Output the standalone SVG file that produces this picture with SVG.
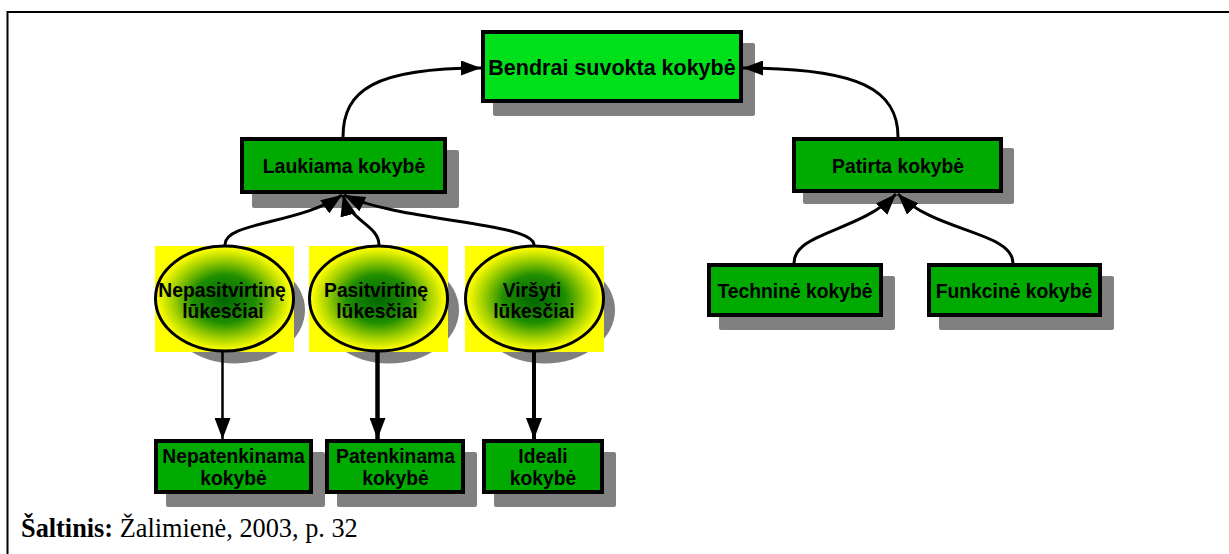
<svg xmlns="http://www.w3.org/2000/svg" width="1229" height="554" viewBox="0 0 1229 554">
<style>
.box{stroke:#000;stroke-width:4}
.b1{fill:#00E01A}
.b2{fill:#00AA00}
.sh{fill:#808080}
.t{font-family:"Liberation Sans",Arial,sans-serif;font-weight:bold;font-size:19.3px;fill:#000;text-anchor:middle}
.con{fill:none;stroke:#000;stroke-width:3}
.ell{fill:none;stroke:#000;stroke-width:3}
</style>
<defs>
<radialGradient id="rg" cx="0.5" cy="0.5" r="0.5" gradientUnits="objectBoundingBox">
<stop offset="0" stop-color="#006600"/>
<stop offset="0.45" stop-color="#1f8e00"/>
<stop offset="0.75" stop-color="#a6d200"/>
<stop offset="0.97" stop-color="#ffff00"/>
</radialGradient>
<marker id="ah" markerUnits="userSpaceOnUse" markerWidth="20" markerHeight="15" refX="20" refY="7.5" orient="auto">
<path d="M0,0 L20,7.5 L0,15 z" fill="#000"/>
</marker>
<marker id="ad" markerUnits="userSpaceOnUse" markerWidth="21" markerHeight="16" refX="21" refY="8" orient="auto">
<path d="M0,0 L21,8 L0,16 z" fill="#000"/>
</marker>
</defs>
<rect width="1229" height="554" fill="#fff"/>
<path d="M7.5,554 L7.5,12 L1229,12" fill="none" stroke="#000" stroke-width="2"/>

<g id="n-bendrai">
<rect class="sh" x="493" y="43" width="262" height="73" rx="2"/>
<rect class="box b1" x="483" y="32" width="258" height="69"/>
<text class="t" x="612" y="75" style="font-size:21.5px">Bendrai suvokta kokybė</text>
</g>
<g id="n-laukiama">
<rect class="sh" x="252" y="150" width="207" height="58" rx="2"/>
<rect class="box b2" x="242" y="139" width="203" height="53"/>
<text class="t" x="344" y="172.5" style="font-size:19.5px">Laukiama kokybė</text>
</g>
<g id="n-patirta">
<rect class="sh" x="803" y="148" width="211" height="56" rx="2"/>
<rect class="box b2" x="794" y="139" width="207" height="52"/>
<text class="t" x="898" y="172.5">Patirta kokybė</text>
</g>
<g id="n-technine">
<rect class="sh" x="719" y="276" width="176" height="54" rx="2"/>
<rect class="box b2" x="709" y="265" width="172" height="50"/>
<text class="t" x="795" y="298">Techninė kokybė</text>
</g>
<g id="n-funkcine">
<rect class="sh" x="939" y="276" width="175" height="54" rx="2"/>
<rect class="box b2" x="929" y="265" width="171" height="50"/>
<text class="t" x="1014" y="298">Funkcinė kokybė</text>
</g>

<g id="n-nepasitvirtine">
<ellipse class="sh" cx="235" cy="310" rx="70" ry="53.5"/>
<rect x="155" y="246" width="139" height="106" fill="url(#rg)"/>
<ellipse class="ell" cx="224.5" cy="298.5" rx="69" ry="52.5"/>
<text class="t" x="222" y="297">Nepasitvirtinę</text>
<text class="t" x="223" y="317.5">lūkesčiai</text>
</g>
<g id="n-pasitvirtine">
<ellipse class="sh" cx="389" cy="310" rx="70" ry="53.5"/>
<rect x="309" y="246" width="139" height="106" fill="url(#rg)"/>
<ellipse class="ell" cx="378.5" cy="298.5" rx="69" ry="52.5"/>
<text class="t" x="376" y="297">Pasitvirtinę</text>
<text class="t" x="377" y="317.5">lūkesčiai</text>
</g>
<g id="n-virsyti">
<ellipse class="sh" cx="545" cy="310" rx="70" ry="53.5"/>
<rect x="465" y="246" width="139" height="106" fill="url(#rg)"/>
<ellipse class="ell" cx="534.5" cy="298.5" rx="69" ry="52.5"/>
<text class="t" x="532" y="297">Viršyti</text>
<text class="t" x="534" y="317.5">lūkesčiai</text>
</g>

<g id="n-nepatenkinama">
<rect class="sh" x="166" y="452" width="159" height="55" rx="2"/>
<rect class="box b2" x="156" y="441" width="155" height="51"/>
<text class="t" x="233.5" y="463">Nepatenkinama</text>
<text class="t" x="233.5" y="484.5">kokybė</text>
</g>
<g id="n-patenkinama">
<rect class="sh" x="337" y="452" width="140" height="55" rx="2"/>
<rect class="box b2" x="327" y="441" width="136" height="51"/>
<text class="t" x="395.5" y="463">Patenkinama</text>
<text class="t" x="395.5" y="484.5">kokybė</text>
</g>
<g id="n-ideali">
<rect class="sh" x="494" y="452" width="122" height="55" rx="2"/>
<rect class="box b2" x="484" y="441" width="118" height="51"/>
<text class="t" x="543" y="463">Ideali</text>
<text class="t" x="543" y="484.5">kokybė</text>
</g>

<g id="connectors">
<path class="con" d="M343,137 C343,90 375,68 481,68" marker-end="url(#ah)"/>
<path class="con" d="M898,137 C898,90 860,68 743,68" marker-end="url(#ah)"/>
<path class="con" d="M225,245 C224,222 300,224 342,195" marker-end="url(#ad)"/>
<path class="con" d="M379,245 C379,225 350,222 343,195" marker-end="url(#ad)"/>
<path class="con" d="M534,245 C534,222 400,222 344,195" marker-end="url(#ad)"/>
<path class="con" d="M794,263 C794,232 860,232 896,194" marker-end="url(#ad)"/>
<path class="con" d="M1013,263 C1013,232 935,232 898,194" marker-end="url(#ad)"/>
<path class="con" d="M222.5,352 L222.5,439" style="stroke-width:2.5" marker-end="url(#ad)"/>
<path class="con" d="M377.5,352 L377.5,439" style="stroke-width:4.5" marker-end="url(#ad)"/>
<path class="con" d="M534,352 L534,439" style="stroke-width:4" marker-end="url(#ad)"/>
</g>

<text x="21" y="536.5" style="font-family:'Liberation Serif','Times New Roman',serif;font-size:26.3px;fill:#000"><tspan font-weight="bold">Šaltinis:</tspan> Žalimienė, 2003, p. 32</text>
</svg>
